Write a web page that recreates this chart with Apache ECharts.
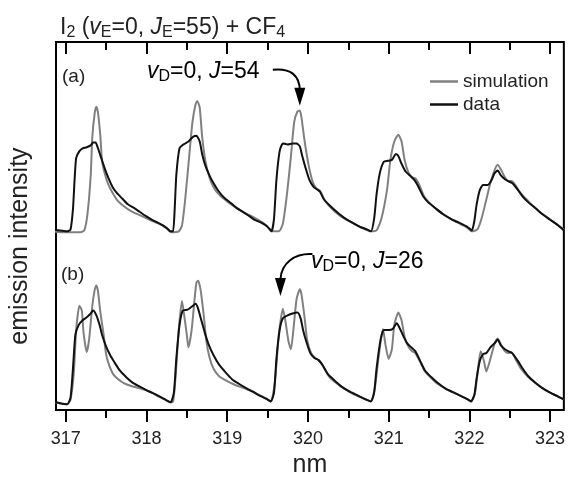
<!DOCTYPE html>
<html lang="en">

<head>
    <meta charset="UTF-8" />
    <title>I2 + CF4 emission</title>
    <script src="https://cdn.jsdelivr.net/npm/echarts@6.0.0/dist/echarts.min.js"></script>
    <style>
        html, body { margin: 0; padding: 0; background: #fff; }
        #main { width: 568px; height: 483px; }
    </style>
</head>

<body>
    <div id="main"></div>

    <script type="text/javascript">
        // tick values (nm)
        var majorTicks = [317, 318, 319, 320, 321, 322, 323];
        var minorTicks = [317.5, 318.5, 319.5, 320.5, 321.5, 322.5];

        // vertical offsets of the two trace pairs (a.u.)
        var offsetA = 185;
        var offsetB = 6;

        // panel (a): [wavelength nm, intensity a.u.]
        var simA = [[316.82,0],[316.99,-1],[317.17,-1],[317.23,1],[317.27,18],[317.31,58],[317.33,98],[317.36,123],[317.38,129],[317.40,123],[317.43,98],[317.45,73],[317.49,58],[317.53,48],[317.58,40],[317.64,32],[317.72,26],[317.81,21],[317.91,17],[317.99,14],[318.09,10],[318.18,7],[318.25,3],[318.31,-1],[318.40,0],[318.44,6],[318.48,33],[318.53,78],[318.57,113],[318.61,132],[318.63,135],[318.66,128],[318.69,98],[318.73,73],[318.78,56],[318.83,46],[318.90,38],[319.00,31],[319.10,25],[319.22,19],[319.34,14],[319.44,9],[319.50,5],[319.55,0],[319.64,0],[319.69,8],[319.74,38],[319.79,78],[319.83,113],[319.87,124],[319.90,125],[319.92,118],[319.96,93],[320.01,68],[320.06,51],[320.10,45],[320.15,42],[320.21,32],[320.30,23],[320.40,16],[320.50,11],[320.61,6],[320.71,2],[320.78,0],[320.85,1],[320.91,13],[320.98,43],[321.02,73],[321.07,93],[321.12,100],[321.16,93],[321.20,73],[321.25,60],[321.29,56],[321.33,55],[321.38,48],[321.44,36],[321.50,30],[321.59,23],[321.69,17],[321.79,12],[321.88,8],[321.97,4],[322.03,0],[322.10,2],[322.15,13],[322.21,33],[322.26,50],[322.31,63],[322.35,69],[322.39,64],[322.44,56],[322.48,52],[322.52,52],[322.57,48],[322.63,40],[322.71,33],[322.79,26],[322.89,19],[322.99,13],[323.09,7],[323.17,2]];
        var dataA = [[316.82,2],[316.93,1],[317.02,0],[317.06,2],[317.09,23],[317.11,53],[317.13,76],[317.17,83],[317.21,86],[317.26,87],[317.31,89],[317.34,92],[317.37,92],[317.40,86],[317.44,76],[317.48,66],[317.53,55],[317.58,46],[317.63,40],[317.70,34],[317.77,28],[317.85,24],[317.92,20],[317.99,16],[318.07,12],[318.14,9],[318.21,6],[318.26,3],[318.30,0],[318.33,0],[318.35,23],[318.37,58],[318.41,86],[318.46,90],[318.52,93],[318.58,98],[318.62,99],[318.66,93],[318.69,80],[318.73,68],[318.78,58],[318.83,50],[318.89,42],[318.96,35],[319.05,29],[319.12,24],[319.20,20],[319.27,16],[319.34,12],[319.42,9],[319.48,6],[319.53,2],[319.55,0],[319.58,13],[319.61,53],[319.65,83],[319.69,91],[319.75,90],[319.81,91],[319.86,91],[319.90,88],[319.93,78],[319.97,66],[320.02,53],[320.07,46],[320.12,43],[320.15,41],[320.20,33],[320.28,26],[320.36,20],[320.45,14],[320.55,9],[320.64,5],[320.73,2],[320.78,0],[320.82,13],[320.85,38],[320.89,60],[320.94,72],[320.99,73],[321.04,74],[321.09,80],[321.12,78],[321.16,70],[321.21,62],[321.26,58],[321.32,53],[321.37,46],[321.43,36],[321.49,30],[321.58,24],[321.67,18],[321.77,13],[321.87,9],[321.97,5],[322.03,1],[322.06,10],[322.09,28],[322.13,43],[322.17,48],[322.23,48],[322.28,54],[322.31,60],[322.35,63],[322.39,58],[322.44,54],[322.48,52],[322.53,50],[322.60,43],[322.66,36],[322.73,30],[322.82,24],[322.90,18],[323.00,12],[323.10,6],[323.17,1]];

        // panel (b)
        var simB = [[316.82,3],[316.93,1],[317.02,0],[317.06,5],[317.10,32],[317.13,77],[317.17,102],[317.20,97],[317.22,75],[317.26,54],[317.29,67],[317.33,102],[317.36,119],[317.38,123],[317.40,117],[317.43,95],[317.47,72],[317.50,52],[317.54,40],[317.59,31],[317.65,26],[317.72,22],[317.81,19],[317.90,17],[317.98,15],[318.07,12],[318.15,8],[318.23,5],[318.29,2],[318.33,3],[318.36,27],[318.40,77],[318.44,107],[318.46,97],[318.50,72],[318.52,59],[318.56,77],[318.60,112],[318.62,126],[318.64,128],[318.67,119],[318.71,92],[318.74,67],[318.78,49],[318.83,37],[318.90,29],[319.00,24],[319.10,20],[319.20,17],[319.29,14],[319.39,10],[319.48,6],[319.54,3],[319.59,22],[319.64,72],[319.69,99],[319.72,87],[319.76,65],[319.79,57],[319.82,77],[319.86,109],[319.90,119],[319.92,114],[319.96,89],[319.99,67],[320.04,53],[320.09,48],[320.14,45],[320.19,39],[320.26,29],[320.35,22],[320.44,17],[320.53,12],[320.63,8],[320.72,5],[320.78,3],[320.83,17],[320.88,52],[320.93,78],[320.96,62],[321.00,47],[321.04,57],[321.07,82],[321.12,95],[321.16,87],[321.20,69],[321.25,59],[321.29,55],[321.33,53],[321.39,44],[321.45,34],[321.53,27],[321.61,21],[321.71,16],[321.81,12],[321.91,8],[321.98,5],[322.02,3],[322.07,12],[322.10,32],[322.14,55],[322.18,45],[322.21,34],[322.26,47],[322.31,62],[322.35,68],[322.39,62],[322.44,55],[322.48,53],[322.52,54],[322.57,47],[322.63,38],[322.72,29],[322.82,22],[322.90,17],[323.00,12],[323.10,8],[323.17,5]];
        var dataB = [[316.82,4],[316.93,1],[317.02,0],[317.06,7],[317.09,37],[317.12,72],[317.16,82],[317.21,87],[317.26,90],[317.31,94],[317.34,97],[317.38,92],[317.42,82],[317.45,72],[317.50,60],[317.55,51],[317.60,44],[317.67,35],[317.75,28],[317.82,23],[317.90,19],[317.97,16],[318.04,13],[318.12,10],[318.19,7],[318.25,4],[318.30,2],[318.34,12],[318.37,47],[318.41,82],[318.45,97],[318.51,98],[318.56,101],[318.61,104],[318.64,99],[318.68,87],[318.72,75],[318.77,62],[318.83,51],[318.90,41],[318.98,33],[319.06,26],[319.15,21],[319.23,17],[319.32,13],[319.40,9],[319.48,6],[319.54,3],[319.58,12],[319.61,47],[319.65,77],[319.69,89],[319.75,92],[319.81,94],[319.87,95],[319.91,89],[319.94,77],[319.98,65],[320.03,53],[320.08,48],[320.13,46],[320.18,41],[320.25,31],[320.34,24],[320.42,18],[320.52,13],[320.62,9],[320.72,5],[320.78,3],[320.82,12],[320.85,37],[320.90,67],[320.94,77],[321.00,77],[321.05,78],[321.10,84],[321.13,80],[321.18,71],[321.23,63],[321.28,59],[321.33,55],[321.39,45],[321.45,35],[321.53,28],[321.61,22],[321.71,16],[321.81,12],[321.91,8],[321.98,5],[322.02,3],[322.06,9],[322.09,27],[322.13,45],[322.17,52],[322.21,53],[322.26,59],[322.31,63],[322.35,67],[322.39,61],[322.44,57],[322.48,55],[322.53,53],[322.60,45],[322.66,37],[322.73,29],[322.82,22],[322.90,17],[323.00,12],[323.10,8],[323.17,5]];

        function shift(arr, off) {
            return arr.map(function (p) { return [p[0], p[1] + off]; });
        }

        var FONT = "'Liberation Sans', Arial, Helvetica, sans-serif";
        var simColor = '#808080';
        var dataColor = '#111111';

        var myChart = echarts.init(document.getElementById('main'));

        function tickAxis(pos, values, len, inside, labels) {
            return {
                type: 'value',
                position: pos,
                min: 316.88,
                max: 323.17,
                axisLine: { show: false },
                splitLine: { show: false },
                axisTick: {
                    show: true,
                    inside: inside,
                    length: len,
                    customValues: values,
                    lineStyle: { color: '#000', width: 2 }
                },
                axisLabel: labels ? {
                    show: true,
                    customValues: values,
                    margin: 20,
                    fontFamily: FONT,
                    fontSize: 18,
                    color: '#222'
                } : { show: false }
            };
        }

        var xMain = tickAxis('bottom', majorTicks, 12, false, true);
        xMain.name = 'nm';
        xMain.nameLocation = 'middle';
        xMain.nameGap = 36;
        xMain.nameTextStyle = { fontFamily: FONT, fontSize: 25, color: '#222' };

        var sub = { fontFamily: FONT, fontSize: 16, color: '#222', verticalAlign: 'bottom', lineHeight: 14 };
        var ital = { fontFamily: FONT, fontSize: 23, fontStyle: 'italic', color: '#222', lineHeight: 26 };

        var option = {
            animation: false,
            title: {
                text: 'I{s|2} ({i|v}{s|E}=0, {i|J}{s|E}=55) + CF{s|4}',
                left: 55,
                top: 10,
                textStyle: {
                    fontFamily: FONT, fontSize: 23, fontWeight: 'normal', color: '#222', lineHeight: 26,
                    rich: { s: sub, i: ital }
                }
            },
            legend: {
                data: ['simulation', 'data'],
                orient: 'vertical',
                left: 425,
                top: 67,
                icon: 'rect',
                itemWidth: 28,
                itemHeight: 2.5,
                itemGap: 4,
                textStyle: { fontFamily: FONT, fontSize: 19, color: '#222', lineHeight: 19 }
            },
            grid: {
                left: 51, right: 4, top: 42, bottom: 60,
                show: true,
                borderColor: '#000',
                borderWidth: 2,
                containLabel: false
            },
            xAxis: [
                xMain,
                tickAxis('bottom', minorTicks, 8, false, false),
                tickAxis('top', majorTicks, 12, true, false),
                tickAxis('top', minorTicks, 8, true, false)
            ],
            yAxis: {
                type: 'value',
                min: 0,
                max: 381,
                axisLine: { show: false },
                axisTick: { show: false },
                axisLabel: { show: false },
                splitLine: { show: false },
                name: 'emission intensity',
                nameLocation: 'middle',
                nameGap: 23,
                nameTextStyle: { fontFamily: FONT, fontSize: 25, color: '#222', padding: [0, 40, 0, 0] }
            },
            series: [
                {
                    name: 'simulation', type: 'line', color: simColor, showSymbol: false, smooth: 0.2,
                    lineStyle: { color: simColor, width: 2 },
                    data: shift(simA, offsetA)
                },
                {
                    name: 'simulation', type: 'line', color: simColor, showSymbol: false, smooth: 0.2,
                    lineStyle: { color: simColor, width: 2 },
                    data: shift(simB, offsetB)
                },
                {
                    name: 'data', type: 'line', color: dataColor, showSymbol: false, smooth: 0.2,
                    lineStyle: { color: dataColor, width: 2 },
                    data: shift(dataA, offsetA)
                },
                {
                    name: 'data', type: 'line', color: dataColor, showSymbol: false, smooth: 0.2,
                    lineStyle: { color: dataColor, width: 2 },
                    data: shift(dataB, offsetB)
                }
            ]
        };
        myChart.setOption(option);

        // annotation arrows anchored to the peaks they point at
        function arrow(tip, start, cp1, cp2, end) {
            return [
                {
                    type: 'bezierCurve',
                    shape: {
                        x1: tip[0] + start[0], y1: tip[1] + start[1],
                        cpx1: tip[0] + cp1[0], cpy1: tip[1] + cp1[1],
                        cpx2: tip[0] + cp2[0], cpy2: tip[1] + cp2[1],
                        x2: tip[0] + end[0], y2: tip[1] + end[1]
                    },
                    style: { stroke: '#000', lineWidth: 2, fill: null }
                },
                {
                    type: 'polygon',
                    shape: { points: [[tip[0] - 5.5, tip[1] - 18], [tip[0] + 5.5, tip[1] - 18], [tip[0], tip[1]]] },
                    style: { fill: '#000' }
                }
            ];
        }
        var tipA = myChart.convertToPixel({ xAxisIndex: 0, yAxisIndex: 0 }, [319.90, offsetA + 130]);
        var tipB = myChart.convertToPixel({ xAxisIndex: 0, yAxisIndex: 0 }, [319.66, offsetB + 112]);

        var richAnn = {
            n: { fontFamily: FONT, fontSize: 23, color: '#222', lineHeight: 26 },
            i: ital,
            s: sub
        };
        var panelLabel = { fontFamily: FONT, fontSize: 19, fill: '#222' };
        var graphics = [
            { type: 'text', left: 62, top: 67, style: Object.assign({ text: '(a)' }, panelLabel) },
            { type: 'text', left: 61, top: 265, style: Object.assign({ text: '(b)' }, panelLabel) },
            { type: 'text', left: 147, top: 60, style: { text: '{i|v}{s|D}{n|=0, }{i|J}{n|=54}', rich: richAnn } },
            { type: 'text', left: 311, top: 250, style: { text: '{i|v}{s|D}{n|=0, }{i|J}{n|=26}', rich: richAnn } }
        ];
        graphics = graphics.concat(arrow(tipA, [-27, -36], [-9, -38], [0, -30], [0, -15]));
        graphics = graphics.concat(arrow(tipB, [32, -42], [14, -43], [1, -33], [0, -17]));
        myChart.setOption({ graphic: graphics });
    </script>
</body>

</html>
